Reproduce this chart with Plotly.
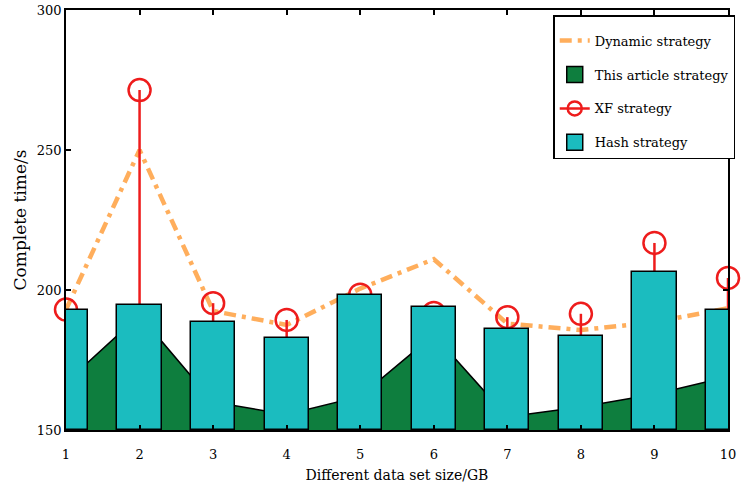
import plotly.graph_objects as go

sizes = [1, 2, 3, 4, 5, 6, 7, 8, 9, 10]
hash_strategy = [193.0, 194.6, 188.7, 182.7, 198.2, 193.8, 186.1, 183.6, 206.5, 192.9]
this_article = [167.0, 191.0, 160.0, 155.5, 162.0, 184.0, 154.7, 158.2, 162.8, 169.0]
dynamic_strategy = [193.0, 250.0, 192.5, 187.5, 200.5, 211.0, 188.0, 185.7, 188.5, 193.5]
xf_strategy = [193.0, 271.4, 195.3, 189.3, 198.3, 191.8, 190.3, 191.5, 216.8, 204.3]
y_ticks = [150, 200, 250, 300]

ORANGE = "#FFAE5C"
GREEN = "#0E7E3E"
RED = "#EE1C1C"
CYAN = "#1BBCBF"
FONT = "DejaVu Serif"
BASE = 150

# stems built from data
stem_x, stem_y = [], []
for xv, yv in zip(sizes, xf_strategy):
    stem_x += [xv, xv, None]
    stem_y += [BASE, yv, None]

fig = go.Figure()

# background layer (x, y)
fig.add_trace(go.Scatter(x=sizes, y=this_article, mode="lines", fill="tozeroy",
                         fillcolor=GREEN, line=dict(color="black", width=1.5),
                         showlegend=False, hoverinfo="skip"))
fig.add_trace(go.Scatter(x=sizes, y=dynamic_strategy, mode="lines",
                         line=dict(color=ORANGE, width=4.5, dash="12px,6px,4px,6px"),
                         name="Dynamic strategy", legendgroup="a", legendrank=1))
fig.add_trace(go.Scatter(x=stem_x, y=stem_y, mode="lines",
                         line=dict(color=RED, width=2.5), showlegend=False))
fig.add_trace(go.Scatter(x=sizes, y=xf_strategy, mode="markers", cliponaxis=False,
                         marker=dict(symbol="circle-open", size=22, color=RED,
                                     line=dict(width=2.5, color=RED)),
                         showlegend=False))

# legend-only entries
fig.add_trace(go.Scatter(x=[None], y=[None], mode="markers",
                         marker=dict(symbol="square", size=16, color=GREEN,
                                     line=dict(color="black", width=1.5)),
                         name="This article strategy", legendgroup="b", legendrank=2))
fig.add_trace(go.Scatter(x=[None], y=[None], mode="lines+markers",
                         line=dict(color=RED, width=2.5),
                         marker=dict(symbol="circle-open", size=14, color=RED,
                                     line=dict(width=2.5, color=RED)),
                         name="XF strategy", legendgroup="c", legendrank=3))
fig.add_trace(go.Scatter(x=[None], y=[None], mode="markers",
                         marker=dict(symbol="square", size=16, color=CYAN,
                                     line=dict(color="black", width=1.5)),
                         name="Hash strategy", legendgroup="d", legendrank=4))

# bars on overlay axes so they sit above the lines
fig.add_trace(go.Bar(x=sizes, y=[v - BASE for v in hash_strategy], base=BASE, width=0.6,
                     marker=dict(color=CYAN, line=dict(color="black", width=1.5)),
                     xaxis="x2", yaxis="y2", showlegend=False))

line_common = dict(showline=True, linecolor="black", linewidth=1.5,
                   ticks="inside", ticklen=5, tickwidth=1.5, tickcolor="black",
                   showgrid=False, zeroline=False, automargin=False)

fig.update_layout(
    width=742, height=486,
    margin=dict(l=66, r=7, t=10, b=56),
    plot_bgcolor="white", paper_bgcolor="white",
    font=dict(family=FONT, color="black"),
    xaxis=dict(range=[1, 10], tickvals=sizes, ticktext=[str(s) for s in sizes],
               tickfont=dict(family=FONT, size=13, color="black"), ticklabelstandoff=12,
               title=dict(text="Different data set size/GB",
                          font=dict(family=FONT, size=14), standoff=9),
               **line_common),
    yaxis=dict(range=[150, 300], tickvals=y_ticks,
               tickfont=dict(family=FONT, size=13, color="black"),
               title=dict(text="Complete time/s", font=dict(family=FONT, size=17), standoff=6),
               **line_common),
    xaxis2=dict(overlaying="x", matches="x", side="top", range=[1, 10],
                tickvals=sizes, showticklabels=False, **line_common),
    yaxis2=dict(overlaying="y", matches="y", side="right", range=[150, 300],
                tickvals=y_ticks, showticklabels=False, **line_common),
    bargap=0,
    legend=dict(x=0.736, y=0.988, xanchor="left", yanchor="top",
                bgcolor="white", bordercolor="black", borderwidth=1.5,
                font=dict(family=FONT, size=13, color="black"),
                title=dict(text=" ", font=dict(size=7)),
                traceorder="grouped", tracegroupgap=14),
)

fig.write_html("out.html")
